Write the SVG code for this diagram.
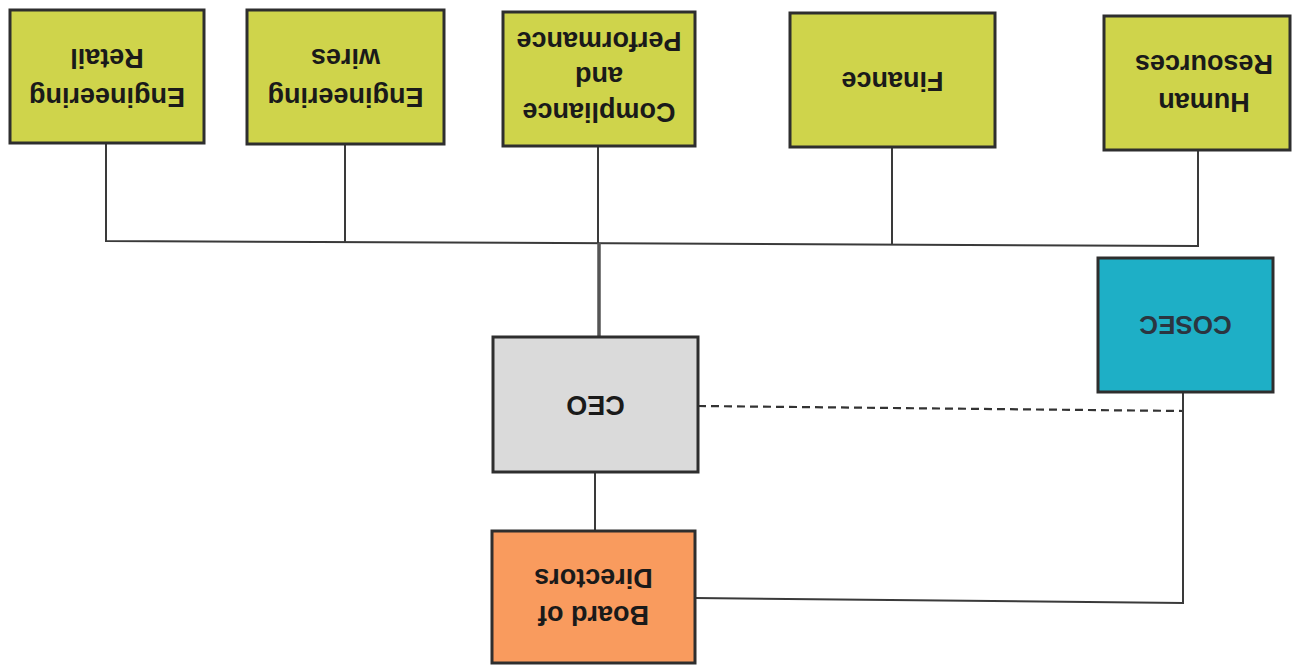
<svg xmlns="http://www.w3.org/2000/svg" width="1294" height="665" viewBox="0 0 1294 665">
<style>
.box{stroke:#2e2e2e;stroke-width:3}
.yel{fill:#cfd44b}
.lbl{font-family:"Liberation Sans",Arial,sans-serif;font-weight:bold;font-size:27px;fill:#1a1a1a;text-anchor:middle}
.ln{fill:none;stroke:#3a3a3a;stroke-width:2}
</style>
<rect width="1294" height="665" fill="#ffffff"/>
<g id="connectors">
<polyline class="ln" points="106,143 106,241 1198,246 1198,150"/>
<line class="ln" x1="345" y1="144" x2="345" y2="242"/>
<line class="ln" x1="598" y1="146" x2="598" y2="243"/>
<line class="ln" x1="892" y1="147" x2="892" y2="244"/>
<line x1="599" y1="243" x2="599" y2="337" stroke="#555" stroke-width="3.5"/>
<line class="ln" x1="595" y1="472" x2="595" y2="531"/>
<line x1="698" y1="406" x2="1183" y2="411" stroke="#333" stroke-width="2.2" stroke-dasharray="8 5"/>
<polyline class="ln" points="1183,392 1183,603 695,598"/>
</g>
<g id="eng-retail">
<rect class="box yel" x="10" y="10" width="194" height="133"/>
<g transform="rotate(180 107 76.5)"><text class="lbl" x="107" y="65">Engineering</text><text class="lbl" x="107" y="104">Retail</text></g>
</g>
<g id="eng-wires">
<rect class="box yel" x="247" y="10" width="197" height="134"/>
<g transform="rotate(180 345.5 77)"><text class="lbl" x="345.5" y="66">Engineering</text><text class="lbl" x="345.5" y="105">wires</text></g>
</g>
<g id="compliance">
<rect class="box yel" x="503" y="12" width="192" height="134"/>
<g transform="rotate(180 599 79)"><text class="lbl" x="599" y="55">Compliance</text><text class="lbl" x="599" y="91">and</text><text class="lbl" x="599" y="126">Performance</text></g>
</g>
<g id="finance">
<rect class="box yel" x="790" y="13" width="205" height="134"/>
<g transform="rotate(180 892.5 80)"><text class="lbl" x="892.5" y="88">Finance</text></g>
</g>
<g id="hr">
<rect class="box yel" x="1104" y="16" width="186" height="134"/>
<g transform="rotate(180 1197 83)"><text class="lbl" x="1190" y="73">Human</text><text class="lbl" x="1190" y="111">Resources</text></g>
</g>
<g id="ceo">
<rect class="box" fill="#dadada" x="493" y="337" width="205" height="135"/>
<g transform="rotate(180 595.5 404.5)"><text class="lbl" x="595.5" y="413">CEO</text></g>
</g>
<g id="cosec">
<rect class="box" fill="#1eafc6" x="1098" y="258" width="175" height="134"/>
<g transform="rotate(180 1185.5 325)"><text class="lbl" x="1185.5" y="334" style="fill:#2b3540;font-size:26px">COSEC</text></g>
</g>
<g id="board">
<rect class="box" fill="#f99b5e" x="492" y="531" width="203" height="132"/>
<g transform="rotate(180 593.5 597)"><text class="lbl" x="593.5" y="588">Board of</text><text class="lbl" x="593.5" y="625">Directors</text></g>
</g>
</svg>
